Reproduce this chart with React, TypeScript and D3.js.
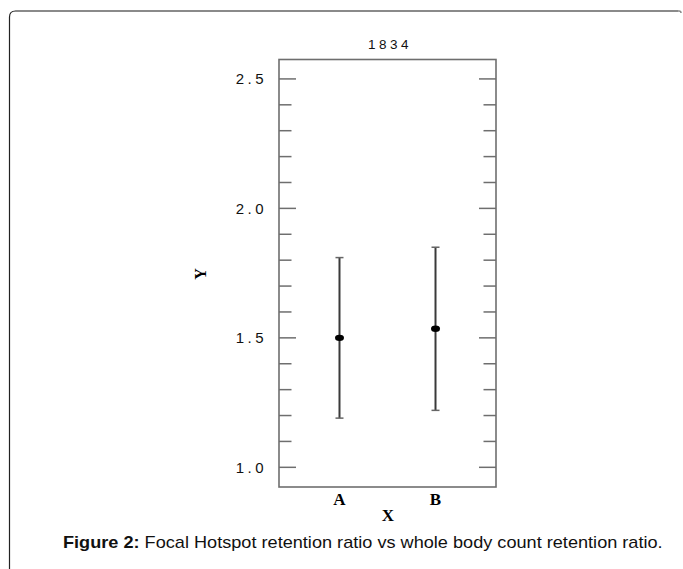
import React from 'react';
import * as d3 from 'd3';

const groups = ['A', 'B'];
const means = [1.5, 1.535];
const lows = [1.19, 1.22];
const highs = [1.81, 1.85];
const majorTicks = [1.0, 1.5, 2.0, 2.5];
const minorTicks = [1.1, 1.2, 1.3, 1.4, 1.6, 1.7, 1.8, 1.9, 2.1, 2.2, 2.3, 2.4];
const chartTitle = '1834';
const xTitle = 'X';
const yTitle = 'Y';

const W = 683;
const H = 569;
const box = { left: 279, right: 496, top: 59.5, bottom: 487 };

const App = () => {
  const y = d3.scaleLinear().domain([0.924, 2.575]).range([box.bottom, box.top]);
  const x = d3.scalePoint<string>().domain(groups).range([box.left, box.right]).padding(0.63);
  const fmt = d3.format('.1f');
  const axisColor = '#6e6e6e';

  return (
    <svg
      width={W}
      height={H}
      style={{ position: 'absolute', left: 0, top: 0 }}
    >
      <rect width={W} height={H} fill="#fff" />
      {/* frame */}
      <path
        d={`M9.5,${H + 5} V17 Q9.5,11 15.5,11 H678`}
        fill="none"
        stroke="#222"
        strokeWidth={1.2}
      />
      <path d="M15.5,11 H679 Q681,11 681,13" fill="none" stroke="#888" strokeWidth={1.5} />

      <text
        x={390}
        y={49}
        textAnchor="middle"
        fontFamily="Liberation Sans, Arial, sans-serif"
        fontSize={13.5}
        letterSpacing={3.5}
        fill="#111"
      >
        {chartTitle}
      </text>

      <rect
        x={box.left}
        y={box.top}
        width={box.right - box.left}
        height={box.bottom - box.top}
        fill="none"
        stroke={axisColor}
        strokeWidth={1.6}
      />

      {majorTicks.map((t) => (
        <g key={`M${t}`}>
          <line x1={box.left} x2={box.left + 17} y1={y(t)} y2={y(t)} stroke={axisColor} strokeWidth={1.5} />
          <line x1={box.right} x2={box.right - 17} y1={y(t)} y2={y(t)} stroke={axisColor} strokeWidth={1.5} />
          <text
            x={267}
            y={y(t)}
            dy="0.36em"
            textAnchor="end"
            fontFamily="Liberation Sans, Arial, sans-serif"
            fontSize={15}
            letterSpacing={3.5}
            fill="#111"
          >
            {fmt(t)}
          </text>
        </g>
      ))}
      {minorTicks.map((t) => (
        <g key={`m${t}`}>
          <line x1={box.left} x2={box.left + 12.5} y1={y(t)} y2={y(t)} stroke={axisColor} strokeWidth={1.5} />
          <line x1={box.right} x2={box.right - 12.5} y1={y(t)} y2={y(t)} stroke={axisColor} strokeWidth={1.5} />
        </g>
      ))}

      {groups.map((g, i) => {
        const cx = x(g) as number;
        return (
          <g key={g}>
            <line x1={cx} x2={cx} y1={y(highs[i])} y2={y(lows[i])} stroke="#3a3a3a" strokeWidth={2} />
            <line x1={cx - 4} x2={cx + 4} y1={y(highs[i])} y2={y(highs[i])} stroke="#666" strokeWidth={1.5} />
            <line x1={cx - 4} x2={cx + 4} y1={y(lows[i])} y2={y(lows[i])} stroke="#666" strokeWidth={1.5} />
            <ellipse cx={cx} cy={y(means[i])} rx={4.5} ry={3.2} fill="#000" />
            <text
              x={cx}
              y={505}
              textAnchor="middle"
              fontFamily="Liberation Serif, Times New Roman, serif"
              fontWeight="bold"
              fontSize={17}
              fill="#000"
            >
              {g}
            </text>
          </g>
        );
      })}

      <text
        x={388}
        y={521}
        textAnchor="middle"
        fontFamily="Liberation Serif, Times New Roman, serif"
        fontWeight="bold"
        fontSize={17}
        fill="#000"
      >
        {xTitle}
      </text>
      <text
        transform="translate(206,274) rotate(-90)"
        textAnchor="middle"
        fontFamily="Liberation Serif, Times New Roman, serif"
        fontWeight="bold"
        fontSize={16}
        fill="#000"
      >
        {yTitle}
      </text>

      <text
        transform="translate(63,548) scale(1.134,1)"
        fontFamily="Liberation Sans, Arial, sans-serif"
        fontSize={16}
        fill="#111"
      >
        <tspan fontWeight="bold">Figure 2:</tspan> Focal Hotspot retention ratio vs whole body count retention ratio.
      </text>
    </svg>
  );
};

export default App;
